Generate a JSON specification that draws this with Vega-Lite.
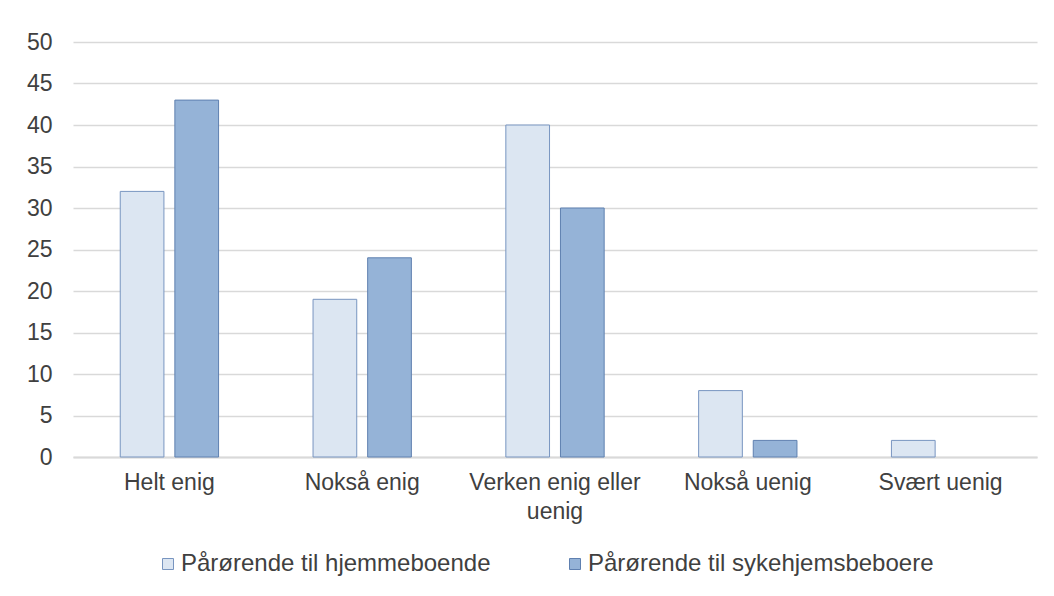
{
  "$schema": "https://vega.github.io/schema/vega-lite/v6.json",
  "autosize": {"type": "none"},
  "padding": {"left": 73, "top": 42, "right": 17, "bottom": 139},
  "width": 964,
  "height": 415,
  "background": "white",
  "config": {
    "view": {"stroke": null},
    "font": "Liberation Sans",
    "axis": {"labelFont": "Liberation Sans", "labelColor": "#404040", "labelFontSize": 23, "ticks": false, "title": null},
    "legend": {"labelFont": "Liberation Sans", "labelColor": "#404040", "labelFontSize": 24}
  },
  "data": {
    "values": [
      {"kategori": "Helt enig", "gruppe": "Pårørende til hjemmeboende", "verdi": 32},
      {"kategori": "Helt enig", "gruppe": "Pårørende til sykehjemsbeboere", "verdi": 43},
      {"kategori": "Nokså enig", "gruppe": "Pårørende til hjemmeboende", "verdi": 19},
      {"kategori": "Nokså enig", "gruppe": "Pårørende til sykehjemsbeboere", "verdi": 24},
      {"kategori": "Verken enig eller uenig", "gruppe": "Pårørende til hjemmeboende", "verdi": 40},
      {"kategori": "Verken enig eller uenig", "gruppe": "Pårørende til sykehjemsbeboere", "verdi": 30},
      {"kategori": "Nokså uenig", "gruppe": "Pårørende til hjemmeboende", "verdi": 8},
      {"kategori": "Nokså uenig", "gruppe": "Pårørende til sykehjemsbeboere", "verdi": 2},
      {"kategori": "Svært uenig", "gruppe": "Pårørende til hjemmeboende", "verdi": 2},
      {"kategori": "Svært uenig", "gruppe": "Pårørende til sykehjemsbeboere", "verdi": 0}
    ]
  },
  "mark": {"type": "bar", "strokeWidth": 1},
  "encoding": {
    "x": {
      "field": "kategori",
      "type": "nominal",
      "sort": ["Helt enig", "Nokså enig", "Verken enig eller uenig", "Nokså uenig", "Svært uenig"],
      "scale": {"paddingInner": 0.49, "paddingOuter": 0.245},
      "axis": {
        "labelAngle": 0,
        "labelPadding": 14,
        "labelLineHeight": 29,
        "labelLimit": 300,
        "domainColor": "#d9d9d9",
        "domainWidth": 2,
        "grid": false,
        "labelExpr": "datum.label == 'Verken enig eller uenig' ? ['Verken enig eller', 'uenig'] : datum.label"
      }
    },
    "xOffset": {
      "field": "gruppe",
      "type": "nominal",
      "scale": {"paddingInner": 0.2, "paddingOuter": 0}
    },
    "y": {
      "field": "verdi",
      "type": "quantitative",
      "scale": {"domain": [0, 50], "nice": false},
      "axis": {
        "values": [0, 5, 10, 15, 20, 25, 30, 35, 40, 45, 50],
        "domain": false,
        "labelPadding": 21,
        "gridColor": "#d9d9d9",
        "gridWidth": 1.5
      }
    },
    "strokeOpacity": {"condition": {"test": "datum.verdi == 0", "value": 0}, "value": 1},
    "fill": {
      "field": "gruppe",
      "type": "nominal",
      "scale": {"range": ["#dce6f2", "#95b3d7"]},
      "legend": {
        "title": null,
        "orient": "none",
        "direction": "horizontal",
        "legendX": 83,
        "legendY": 510,
        "symbolType": "square",
        "symbolSize": 121,
        "symbolStrokeWidth": 1,
        "labelOffset": 1,
        "labelLimit": 400,
        "columnPadding": 72
      }
    },
    "stroke": {
      "field": "gruppe",
      "type": "nominal",
      "scale": {"range": ["#7895c0", "#5f80b0"]},
      "legend": {
        "title": null,
        "orient": "none",
        "direction": "horizontal",
        "legendX": 83,
        "legendY": 510,
        "symbolType": "square",
        "symbolSize": 121,
        "symbolStrokeWidth": 1,
        "labelOffset": 1,
        "labelLimit": 400,
        "columnPadding": 72
      }
    }
  }
}
